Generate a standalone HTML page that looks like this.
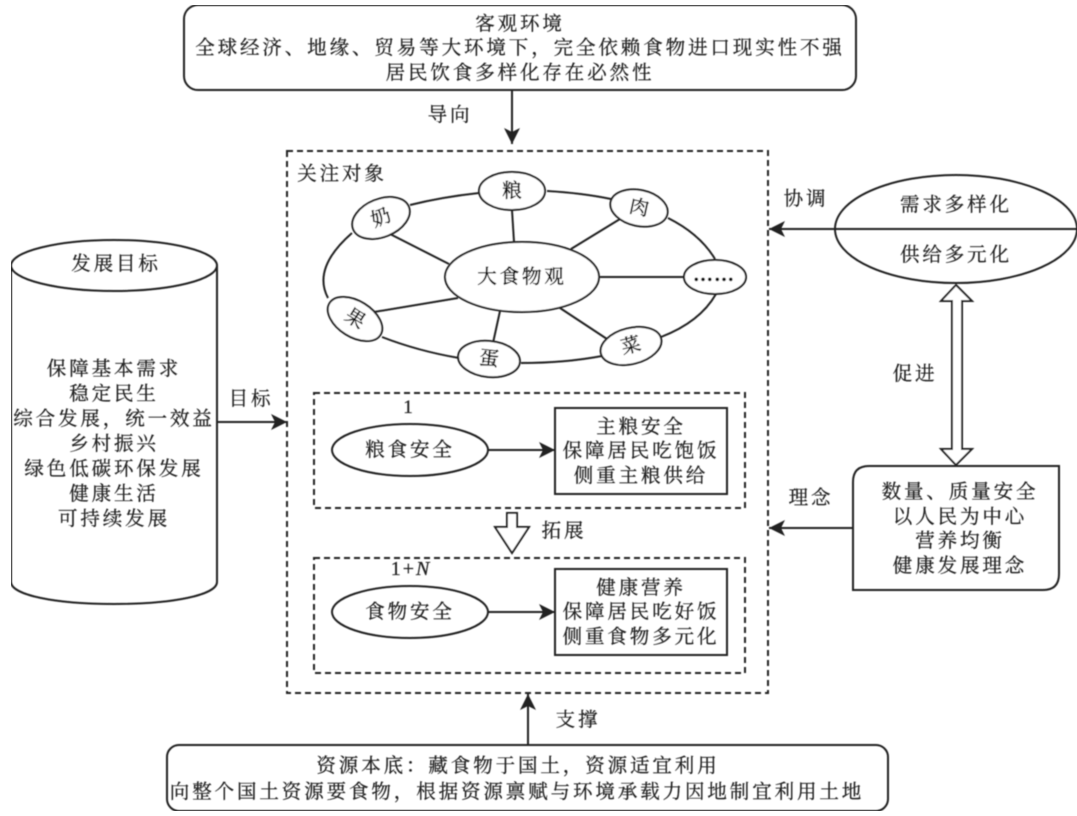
<!DOCTYPE html>
<html lang="zh">
<head>
<meta charset="utf-8">
<style>
html,body{margin:0;padding:0;background:#fff}
svg{display:block}
text{font-family:"Liberation Serif","Noto Serif CJK SC",serif;font-size:19.5px;letter-spacing:2.9px;fill:#222;stroke:#222;stroke-width:.25px;text-anchor:middle}
text.k{stroke-width:.5px;fill:#111;stroke:#111}
.s{fill:none;stroke:#222;stroke-width:2}
.w{fill:#fff;stroke:#222;stroke-width:2}
.d{fill:none;stroke:#222;stroke-width:2;stroke-dasharray:6 4}
</style>
</head>
<body>
<svg width="1077" height="816" viewBox="0 0 1077 816" xmlns="http://www.w3.org/2000/svg">
<defs>
<marker id="a" markerUnits="userSpaceOnUse" markerWidth="18" markerHeight="16" refX="16" refY="8" orient="auto">
<path d="M0 0L16 8L0 16L4 8Z" fill="#222"/>
</marker>
<filter id="b" x="0" y="0" width="100%" height="100%"><feGaussianBlur stdDeviation="0.4"/></filter>
</defs>
<rect x="0" y="0" width="1077" height="816" fill="#fff"/>
<g filter="url(#b)">
<rect class="s" x="184" y="5" width="672" height="85" rx="14"/>
<text x="520" y="30">客观环境</text>
<text x="520" y="54">全球经济、地缘、贸易等大环境下，完全依赖食物进口现实性不强</text>
<text x="520" y="79">居民饮食多样化存在必然性</text>
<line class="s" x1="512" y1="90" x2="512" y2="144" marker-end="url(#a)"/>
<text x="450" y="121">导向</text>

<rect class="d" x="287" y="151" width="481" height="542"/>
<text x="342" y="180">关注对象</text>

<path class="s" d="M479 193Q442 197 410 205"/>
<path class="s" d="M547 191Q582 193 611 199"/>
<path class="s" d="M668 218Q700 234 715 259"/>
<path class="s" d="M716 294Q700 322 661 337"/>
<path class="s" d="M602 356Q565 363 521 363"/>
<path class="s" d="M459 358Q418 351 382 337"/>
<path class="s" d="M328 298Q312 268 352 233"/>
<line class="s" x1="390" y1="234" x2="449" y2="264"/>
<line class="s" x1="512" y1="210" x2="514" y2="242"/>
<line class="s" x1="620" y1="219" x2="571" y2="249"/>
<line class="s" x1="600" y1="277" x2="684" y2="277"/>
<line class="s" x1="560" y1="308" x2="607" y2="339"/>
<line class="s" x1="500" y1="311" x2="493" y2="343"/>
<line class="s" x1="374" y1="312" x2="458" y2="298"/>

<ellipse class="w" cx="522" cy="277" rx="77" ry="35"/>
<text class="k" x="522" y="283">大食物观</text>
<ellipse class="w" cx="512" cy="191" rx="33" ry="19"/>
<text class="k" x="512" y="197" style="letter-spacing:0">粮</text>
<ellipse class="w" cx="639" cy="208" rx="29" ry="18" transform="rotate(12 639 208)"/>
<text class="k" x="639" y="214" style="letter-spacing:0" transform="rotate(12 639 208)">肉</text>
<ellipse class="w" cx="381" cy="218" rx="30" ry="19" transform="rotate(-22 381 218)"/>
<text class="k" x="381" y="224" style="letter-spacing:0" transform="rotate(-22 381 218)">奶</text>
<ellipse class="w" cx="355" cy="319" rx="30" ry="18" transform="rotate(32 355 319)"/>
<text class="k" x="355" y="325" style="letter-spacing:0" transform="rotate(32 355 319)">果</text>
<ellipse class="w" cx="489" cy="359" rx="31" ry="18" transform="rotate(6 489 359)"/>
<text class="k" x="489" y="365" style="letter-spacing:0" transform="rotate(6 489 359)">蛋</text>
<ellipse class="w" cx="631" cy="346" rx="31" ry="18" transform="rotate(-14 631 346)"/>
<text class="k" x="631" y="352" style="letter-spacing:0" transform="rotate(-14 631 346)">菜</text>
<ellipse class="w" cx="715" cy="277" rx="31" ry="17"/>
<text class="k" x="714" y="281" style="letter-spacing:1px;font-size:20px;font-weight:700">……</text>

<rect class="d" x="314" y="393" width="431" height="115"/>
<text x="408" y="413" style="font-size:19px;letter-spacing:0">1</text>
<ellipse class="s" cx="410" cy="450" rx="78" ry="26"/>
<text x="410" y="456">粮食安全</text>
<line class="s" x1="488" y1="450" x2="555" y2="450" marker-end="url(#a)"/>
<rect class="s" x="555" y="408" width="172" height="86"/>
<text x="641" y="433">主粮安全</text>
<text x="641" y="457">保障居民吃饱饭</text>
<text x="641" y="482">侧重主粮供给</text>

<polygon class="w" points="507,513 517,513 517,527 529,527 512,553 495,527 507,527"/>
<text x="564" y="537">拓展</text>

<rect class="d" x="314" y="558" width="431" height="115"/>
<text x="411" y="575" style="font-size:20px;letter-spacing:2px">1+<tspan font-style="italic">N</tspan></text>
<ellipse class="s" cx="410" cy="612" rx="78" ry="26"/>
<text x="410" y="618">食物安全</text>
<line class="s" x1="488" y1="612" x2="555" y2="612" marker-end="url(#a)"/>
<rect class="s" x="555" y="569" width="172" height="86"/>
<text x="641" y="594">健康营养</text>
<text x="641" y="618">保障居民吃好饭</text>
<text x="641" y="643">侧重食物多元化</text>

<path class="s" d="M11 265V582C11 595 55 604 114 604S217 595 217 582V265"/>
<ellipse class="s" cx="114" cy="265.500" rx="103" ry="25.500"/>
<text x="116" y="270">发展目标</text>
<text x="114" y="375">保障基本需求</text>
<text x="114" y="400">稳定民生</text>
<text x="114" y="425">综合发展，统一效益</text>
<text x="114" y="450">乡村振兴</text>
<text x="114" y="475">绿色低碳环保发展</text>
<text x="114" y="500">健康生活</text>
<text x="114" y="525">可持续发展</text>
<line class="s" x1="217" y1="422" x2="287" y2="422" marker-end="url(#a)"/>
<text x="251" y="405">目标</text>

<ellipse class="s" cx="956" cy="229" rx="121" ry="54"/>
<line class="s" x1="1077" y1="229" x2="769" y2="229" marker-end="url(#a)"/>
<text x="956" y="211">需求多样化</text>
<text x="956" y="261">供给多元化</text>
<text x="806" y="205">协调</text>
<polygon class="w" points="956,285 972,301 962,301 962,449 972,449 956,465 941,449 952,449 952,301 941,301"/>
<text x="915" y="380">促进</text>
<path class="s" d="M869 466H1059V574Q1059 590 1043 590H853V482Q853 466 869 466Z"/>
<text x="960" y="498">数量、质量安全</text>
<text x="960" y="523">以人民为中心</text>
<text x="960" y="547">营养均衡</text>
<text x="960" y="572">健康发展理念</text>
<line class="s" x1="853" y1="528" x2="769" y2="528" marker-end="url(#a)"/>
<text x="811" y="504">理念</text>

<rect class="s" x="167" y="745" width="721" height="66" rx="12"/>
<text x="518" y="772">资源本底：藏食物于国土，资源适宜利用</text>
<text x="517" y="798">向整个国土资源要食物，根据资源禀赋与环境承载力因地制宜利用土地</text>
<line class="s" x1="528" y1="745" x2="528" y2="694" marker-end="url(#a)"/>
<text x="578" y="726">支撑</text>
</g>
</svg>
</body>
</html>
